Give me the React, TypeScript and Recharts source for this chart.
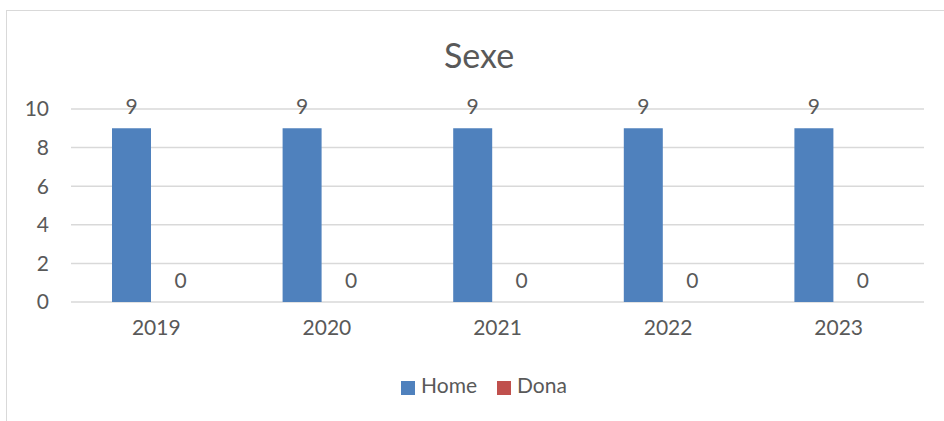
import React from 'react';
import {
	Bar,
	BarChart,
	CartesianGrid,
	LabelList,
	Legend,
	XAxis,
	YAxis,
} from 'recharts';

const years = ['2019', '2020', '2021', '2022', '2023'];
const homeValues = [9, 9, 9, 9, 9];
const donaValues = [0, 0, 0, 0, 0];
const yTicks = [0, 2, 4, 6, 8, 10];

const data = years.map((year, i) => ({
	year,
	Home: homeValues[i],
	Dona: donaValues[i],
}));

const textColor = '#595959';
const font = 'Lato, "Open Sans", sans-serif';

export default function App() {
	return (
		<div
			style={{
				position: 'absolute',
				left: 0,
				top: 0,
				width: 944,
				height: 421,
				overflow: 'hidden',
				background: '#fff',
				fontFamily: font,
			}}
		>
			<div
				style={{
					position: 'absolute',
					left: 6,
					top: 10,
					width: 1000,
					height: 500,
					border: '1px solid #d9d9d9',
				}}
			/>
			<div
				style={{
					position: 'absolute',
					left: 0,
					width: 958,
					top: 34,
					textAlign: 'center',
					fontSize: 34,
					color: textColor,
				}}
			>
				Sexe
			</div>
			<div style={{ position: 'absolute', left: 0, top: 0 }}>
				<BarChart
					width={944}
					height={421}
					data={data}
					barSize={39}
					barGap={10}
					margin={{ top: 109, right: 20, left: 11, bottom: 79 }}
				>
					<CartesianGrid vertical={false} stroke='#d9d9d9' strokeWidth={1.5} />
					<XAxis
						dataKey='year'
						axisLine={false}
						tickLine={false}
						height={40}
						tickMargin={12}
						tick={{ fill: textColor, fontSize: 21, fontFamily: font }}
					/>
					<YAxis
						domain={[0, 10]}
						ticks={yTicks}
						width={60}
						axisLine={false}
						tickLine={false}
						tickMargin={16}
						tick={{ fill: textColor, fontSize: 21, fontFamily: font }}
					/>
					<Legend
						layout='horizontal'
						verticalAlign='middle'
						align='center'
						iconType='square'
						iconSize={14}
						itemSorter={null}
						wrapperStyle={{
							top: 372,
							left: 10,
							width: 958,
							fontSize: 21,
							fontFamily: font,
						}}
						formatter={(value) => (
							<span
								style={{
									color: textColor,
									marginLeft: 2,
									marginRight: value === 'Home' ? 10 : 0,
								}}
							>
								{value}
							</span>
						)}
					/>
					<Bar dataKey='Home' fill='#4F81BD' isAnimationActive={false}>
						<LabelList
							dataKey='Home'
							position='top'
							offset={14}
							fill={textColor}
							fontSize={21}
							fontFamily={font}
						/>
					</Bar>
					<Bar
						dataKey='Dona'
						fill='#C0504D'
						minPointSize={0.01}
						isAnimationActive={false}
					>
						<LabelList
							dataKey='Dona'
							position='top'
							offset={14}
							fill={textColor}
							fontSize={21}
							fontFamily={font}
						/>
					</Bar>
				</BarChart>
			</div>
		</div>
	);
}
